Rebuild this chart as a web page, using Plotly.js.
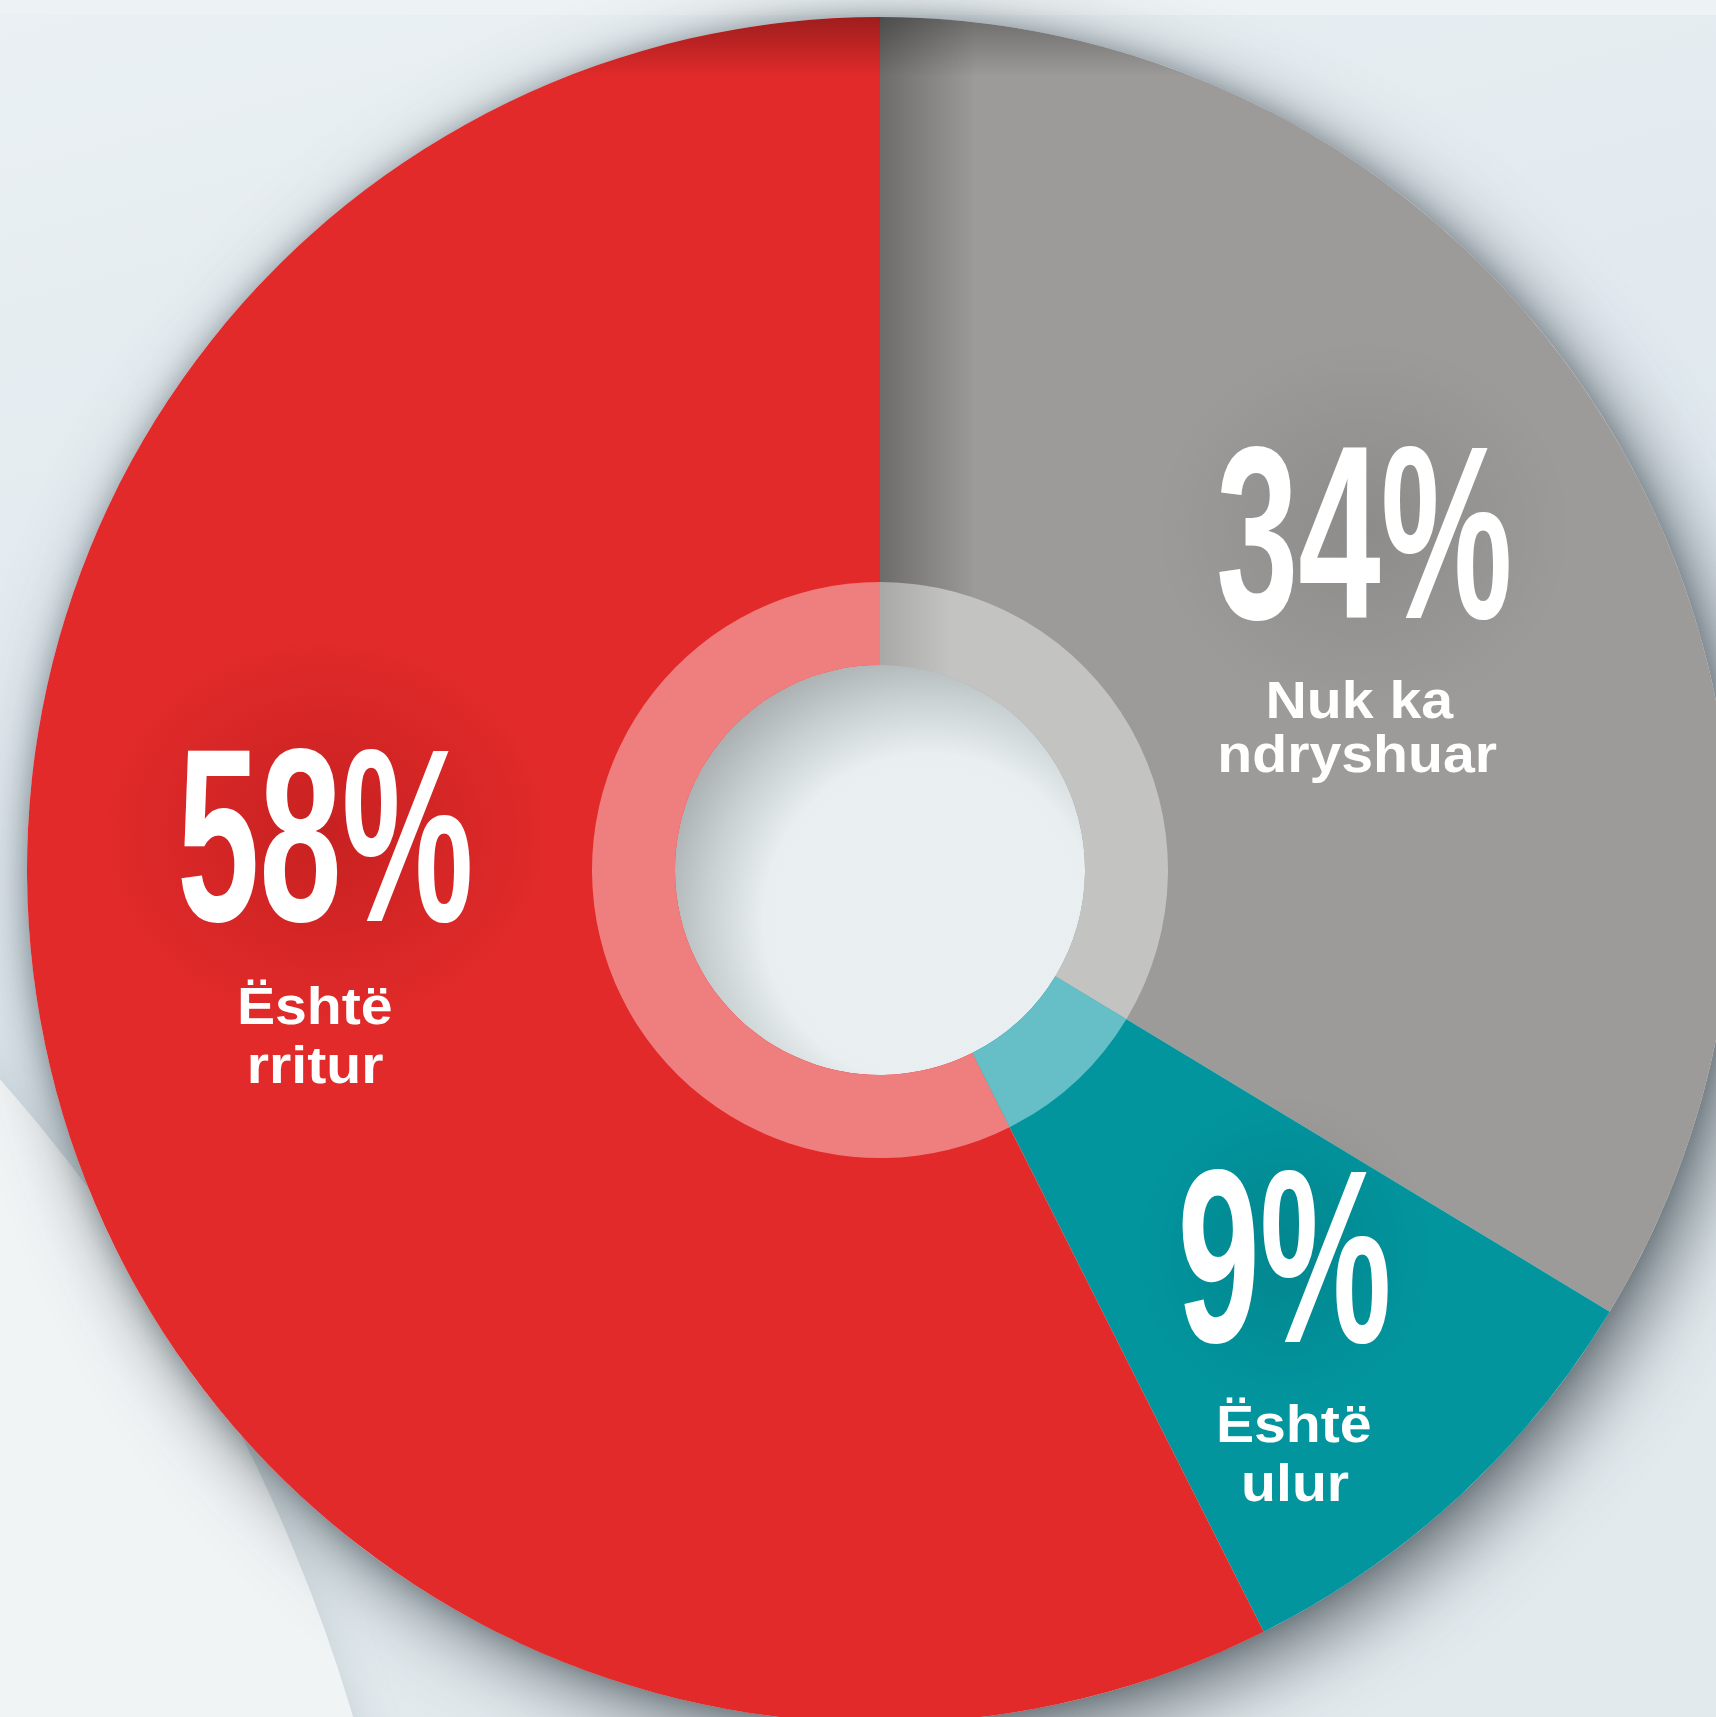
<!DOCTYPE html>
<html>
<head>
<meta charset="utf-8">
<script src="https://cdn.plot.ly/plotly-3.0.1.min.js"></script>
<style>
html,body{margin:0;padding:0;width:1716px;height:1717px;overflow:hidden;background:#e6edf0;}
#bg{position:absolute;left:0;top:0;width:1716px;height:1717px;background:linear-gradient(165deg,#eaf0f3 0%,#dfe8ee 45%,#e2eaed 100%);}
#topband{position:absolute;left:0;top:0;width:1716px;height:15px;background:#edf2f4;}
#light{position:absolute;left:-2959px;top:507px;width:3382px;height:3382px;border-radius:50%;background:#f1f4f5;box-shadow:0 0 40px rgba(150,165,172,0.35);}
#shadow{position:absolute;left:27px;top:17px;width:1706px;height:1706px;border-radius:50%;box-shadow:18px 22px 75px 0 rgba(50,60,66,0.7),0 0 24px rgba(80,100,112,0.4);}
#hole{position:absolute;left:675px;top:665px;width:410px;height:410px;border-radius:50%;background:radial-gradient(circle at 62% 62%,#eaf0f2 0%,#e9eff1 46%,#c9d0d2 62%,#a2a8aa 80%);}
#chart{position:absolute;left:27px;top:17px;width:1706px;height:1706px;}
</style>
</head>
<body>
<div id="bg"></div>
<div id="topband"></div>
<div id="light"></div>
<div id="shadow"></div>
<div id="hole"></div>
<div id="chart"></div>
<script>
// ---- data (clockwise from 12 o'clock) ----
const categories = ["Nuk ka ndryshuar", "Është ulur", "Është rritur"];
const values = [34, 9, 58];
const labelLines = [["Nuk ka", "ndryshuar"], ["Është", "ulur"], ["Është", "rritur"]];
const colors = ["#9c9b99", "#02959e", "#e22a2a"];
const ringColors = ["#c3c3c2", "#66bec6", "#ef7e7e"];

// ---- geometry (page pixels) ----
const DIV_L = 27, DIV_T = 17, DIV_S = 1706;
const R_OUT = 853, R_RING = 288, R_HOLE = 205;
const px = X => (X - DIV_L) / DIV_S;
const py = Y => 1 - (Y - DIV_T) / DIV_S;

// centres of the big numbers' digits, and baselines of the label lines
const numPos = [[1364, 529], [1284, 1253], [325, 832]];
const linePos = [[[1360, 718], [1357, 772]], [[1294, 1442], [1295, 1501]], [[315, 1024], [315, 1083]]];

const NUM_SIZE = 247, LINE_SIZE = 52;
const NUM_SCALE = 0.6, LINE_SCALE = 1.1;

const ringHalf = R_RING / DIV_S;
const traces = [
  {
    type: "pie", labels: categories, values: values, sort: false,
    direction: "clockwise", rotation: 0, hole: R_HOLE / R_OUT,
    marker: {colors: colors, line: {width: 0}},
    textinfo: "none", hoverinfo: "label+percent",
    domain: {x: [0, 1], y: [0, 1]}
  },
  {
    type: "pie", labels: categories, values: values, sort: false,
    direction: "clockwise", rotation: 0, hole: R_HOLE / R_RING,
    marker: {colors: ringColors, line: {width: 0}},
    textinfo: "none", hoverinfo: "label+percent",
    domain: {x: [0.5 - ringHalf, 0.5 + ringHalf], y: [0.5 - ringHalf, 0.5 + ringHalf]}
  }
];

const annotations = [];
const bigIdx = [], lineIdx = [];
categories.forEach((c, i) => {
  bigIdx.push(annotations.length);
  const [NX, NY] = numPos[i];
  annotations.push({
    text: Math.round(values[i]) + "%", xref: "paper", yref: "paper",
    x: px(NX), y: py(NY + 0.0115 * NUM_SIZE), xanchor: "center", yanchor: "middle",
    showarrow: false, borderpad: 0,
    font: {family: "Liberation Sans", size: NUM_SIZE, color: "#ffffff", weight: "bold"}
  });
  labelLines[i].forEach((t, j) => {
    const [X, B] = linePos[i][j];
    lineIdx.push(annotations.length);
    annotations.push({
      text: t, xref: "paper", yref: "paper",
      x: px(X), y: py(B - 0.3465 * LINE_SIZE), xanchor: "center", yanchor: "middle",
      showarrow: false, borderpad: 0,
      font: {family: "Liberation Sans", size: LINE_SIZE, color: "#ffffff", weight: "bold"}
    });
  });
});

// lighting overlay (drawn above the slices, below the texts)
function toLocal(X, Y) { return [X - DIV_L, Y - DIV_T]; }
const g58 = toLocal(numPos[2][0], numPos[2][1]);
const g34 = toLocal(numPos[0][0], numPos[0][1]);
const g9 = toLocal(numPos[1][0], numPos[1][1]);
const C = DIV_S / 2;
const svgOverlay =
  '<svg xmlns="http://www.w3.org/2000/svg" width="' + DIV_S + '" height="' + DIV_S + '" viewBox="0 0 ' + DIV_S + ' ' + DIV_S + '">' +
  '<defs>' +
  '<clipPath id="c"><circle cx="' + C + '" cy="' + C + '" r="' + R_OUT + '"/></clipPath>' +
  '<mask id="mOut"><rect x="0" y="0" width="' + DIV_S + '" height="' + DIV_S + '" fill="#fff"/><circle cx="' + C + '" cy="' + C + '" r="' + R_RING + '" fill="#000"/></mask>' +
  '<mask id="mRing"><circle cx="' + C + '" cy="' + C + '" r="' + R_RING + '" fill="#fff"/><circle cx="' + C + '" cy="' + C + '" r="' + R_HOLE + '" fill="#000"/></mask>' +
  '<linearGradient id="h" x1="0" y1="0" x2="1" y2="0"><stop offset="0" stop-color="#000" stop-opacity="0.3"/><stop offset="1" stop-color="#000" stop-opacity="0"/></linearGradient>' +
  '<linearGradient id="v" x1="0" y1="0" x2="0" y2="1"><stop offset="0" stop-color="#000" stop-opacity="0.3"/><stop offset="1" stop-color="#000" stop-opacity="0"/></linearGradient>' +
  '<radialGradient id="r1"><stop offset="0" stop-color="#6a0000" stop-opacity="0.22"/><stop offset="1" stop-color="#6a0000" stop-opacity="0"/></radialGradient>' +
  '<radialGradient id="r2"><stop offset="0" stop-color="#000" stop-opacity="0.1"/><stop offset="1" stop-color="#000" stop-opacity="0"/></radialGradient>' +
  '</defs>' +
  '<g clip-path="url(#c)">' +
  '<rect x="' + C + '" y="0" width="95" height="' + C + '" fill="url(#h)" mask="url(#mOut)"/>' +
  '<rect x="' + C + '" y="0" width="70" height="' + C + '" fill="url(#h)" opacity="0.45" mask="url(#mRing)"/>' +
  '<rect x="0" y="0" width="' + DIV_S + '" height="60" fill="url(#v)"/>' +
  '<ellipse cx="' + g58[0] + '" cy="' + g58[1] + '" rx="230" ry="200" fill="url(#r1)"/>' +
  '<ellipse cx="' + g34[0] + '" cy="' + g34[1] + '" rx="210" ry="190" fill="url(#r2)"/>' +
  '<ellipse cx="' + g9[0] + '" cy="' + g9[1] + '" rx="150" ry="160" fill="url(#r2)"/>' +
  '</g></svg>';

const layout = {
  width: DIV_S, height: DIV_S,
  margin: {l: 0, r: 0, t: 0, b: 0, pad: 0},
  paper_bgcolor: "rgba(0,0,0,0)", plot_bgcolor: "rgba(0,0,0,0)",
  showlegend: false,
  annotations: annotations,
  images: [{
    source: "data:image/svg+xml;charset=utf-8," + encodeURIComponent(svgOverlay),
    xref: "paper", yref: "paper", x: 0, y: 1, sizex: 1, sizey: 1,
    xanchor: "left", yanchor: "top", sizing: "stretch", layer: "above"
  }]
};

Plotly.newPlot("chart", traces, layout, {displayModeBar: false, staticPlot: true}).then(() => {
  const texts = document.querySelectorAll("#chart .annotation-text");
  const squeeze = (k, s) => {
    const t = texts[k];
    if (!t) return;
    t.style.transformBox = "fill-box";
    t.style.transformOrigin = "center";
    t.style.transform = "scaleX(" + s + ")";
  };
  bigIdx.forEach(k => squeeze(k, NUM_SCALE));
  lineIdx.forEach(k => squeeze(k, LINE_SCALE));
});
</script>
</body>
</html>
